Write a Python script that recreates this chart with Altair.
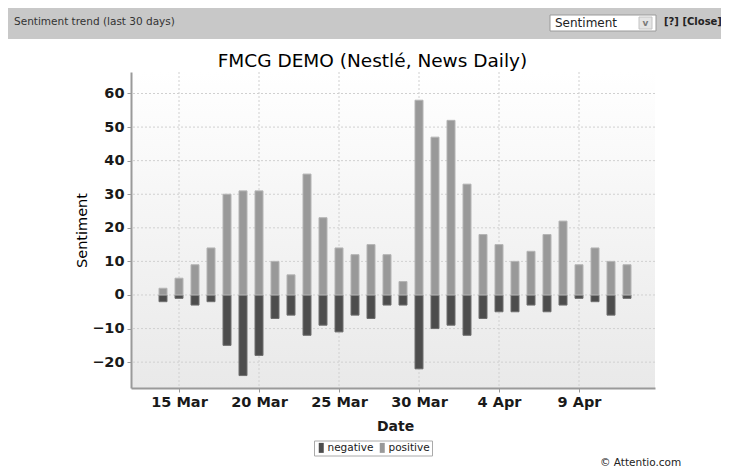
import altair as alt
import pandas as pd

# ---------------- data ----------------
dates = [d.strftime("%Y-%m-%d") for d in pd.date_range("2009-03-14", "2009-04-12", freq="D")]
positive = [2, 5, 9, 14, 30, 31, 31, 10, 6, 36, 23, 14, 12, 15, 12, 4,
            58, 47, 52, 33, 18, 15, 10, 13, 18, 22, 9, 14, 10, 9]
negative = [-2, -1, -3, -2, -15, -24, -18, -7, -6, -12, -9, -11, -6, -7, -3, -3,
            -22, -10, -9, -12, -7, -5, -5, -3, -5, -3, -1, -2, -6, -1]
series = ["negative", "positive"]
fill_colors = ["#4d4d4d", "#999999"]
stroke_colors = ["#6e6e6e", "#b4b4b4"]
x_tick_dates = ["2009-03-15", "2009-03-20", "2009-03-25", "2009-03-30", "2009-04-04", "2009-04-09"]
y_ticks = [-20, -10, 0, 10, 20, 30, 40, 50, 60]
y_domain = [-27.7, 66.4]
x_domain = ["2009-03-12T00:00:00", "2009-04-13T18:00:00"]

chart_title = "FMCG DEMO (Nestlé, News Daily)"
header_text = "Sentiment trend (last 30 days)"
select_text = "Sentiment"
header_links = "[?] [Close]"
footer_text = "© Attentio.com"

# ---------------- layout ----------------
W, H = 524, 316
PL, PT = 123, 64
TOTAL_W, TOTAL_H = 713, 460
FONT = "DejaVu Sans"


def ms(s):
    return int(pd.Timestamp(s, tz="UTC").value // 10**6)


df = pd.DataFrame({
    "date": [ms(d) for d in dates] * 2,
    "value": negative + positive,
    "series": ["negative"] * len(dates) + ["positive"] * len(dates),
})

xscale = alt.Scale(type="utc", domain=[ms(x_domain[0]), ms(x_domain[1])], nice=False, padding=0)
yscale = alt.Scale(domain=y_domain, nice=False, zero=False, padding=0)

xaxis = alt.Axis(
    values=[ms(d) for d in x_tick_dates],
    labelExpr="utcFormat(datum.value, '%-d %b')",
    grid=False,
    domainColor="#9a9a9a", domainWidth=2,
    tickColor="#9a9a9a", tickSize=4,
    labelFont=FONT, labelFontSize=14.5, labelFontWeight="bold",
    labelColor="#1a1a1a", labelPadding=3, labelFlush=False,
    title="Date", titleFont=FONT, titleFontSize=14, titleFontWeight="bold",
    titleColor="#1a1a1a", titleX=264, titleY=42, titleBaseline="alphabetic",
    titleAlign="center", zindex=1,
)
yaxis = alt.Axis(
    values=y_ticks,
    grid=False,
    domainColor="#9a9a9a", domainWidth=2,
    tickColor="#9a9a9a", tickSize=4,
    labelFont=FONT, labelFontSize=14.5, labelFontWeight="bold",
    labelColor="#1a1a1a", labelPadding=3,
    title="Sentiment", titleFont=FONT, titleFontSize=14.5,
    titleFontWeight="normal", titleColor="#000000",
    titleX=-45, titleY=H / 2, titleAngle=270, titleBaseline="alphabetic",
    titleAlign="center", zindex=1,
)

bg = alt.Chart(pd.DataFrame({"a": [0]})).mark_rect(
    fill=alt.LinearGradient(
        gradient="linear",
        stops=[alt.GradientStop(color="#ffffff", offset=0),
               alt.GradientStop(color="#e9e9e9", offset=1)],
        x1=0, x2=0, y1=0, y2=1,
    )
).encode(x=alt.value(0), x2=alt.value(W), y=alt.value(0), y2=alt.value(H))

ygrid = alt.Chart(pd.DataFrame({"value": y_ticks})).mark_rule(
    color="#d0d0d0", strokeDash=[2, 2], strokeWidth=1
).encode(y=alt.Y("value:Q", scale=yscale, axis=yaxis))

xgrid = alt.Chart(pd.DataFrame({"date": [ms(d) for d in x_tick_dates]})).mark_rule(
    color="#d0d0d0", strokeDash=[2, 2], strokeWidth=1
).encode(x=alt.X("date:T", scale=xscale, axis=xaxis))

bars = alt.Chart(df).mark_bar(size=8, strokeWidth=1, opacity=1).encode(
    x=alt.X("date:T", scale=xscale, axis=xaxis),
    y=alt.Y("value:Q", stack=None, scale=yscale, axis=yaxis),
    color=alt.Color(
        "series:N",
        scale=alt.Scale(domain=series, range=fill_colors),
        legend=alt.Legend(
            orient="none", legendX=183, legendY=368.5, direction="horizontal",
            title=None, symbolType="M-0.5,-1H0.5V1H-0.5Z", symbolSize=100,
            symbolStrokeWidth=0, labelFont=FONT, labelFontSize=10.5,
            labelColor="#1a1a1a", labelOffset=1, columnPadding=3, padding=2,
            strokeColor="#aaaaaa", fillColor="#ffffff",
        ),
    ),
    stroke=alt.Stroke("series:N", scale=alt.Scale(domain=series, range=stroke_colors), legend=None),
)


def one(label):
    return alt.Chart(pd.DataFrame({"t": [label]}))


title = one(chart_title).mark_text(
    font=FONT, fontSize=18.5, color="#000000", align="center", baseline="alphabetic"
).encode(x=alt.value(241.5), y=alt.value(-5), text="t:N")

header_bar = one("").mark_rect(color="#c8c8c8").encode(
    x=alt.value(-PL), x2=alt.value(TOTAL_W - PL), y=alt.value(-PT), y2=alt.value(-PT + 31)
)
header_lbl = one(header_text).mark_text(
    font=FONT, fontSize=10.5, color="#333333", align="left", baseline="middle"
).encode(x=alt.value(-117), y=alt.value(-50), text="t:N")

select_box = one("").mark_rect(fill="#ffffff", stroke="#9a9a9a", strokeWidth=1).encode(
    x=alt.value(419), x2=alt.value(525), y=alt.value(-57), y2=alt.value(-41)
)
select_btn = one("").mark_rect(fill="#e4e4e4", stroke="#c4c4c4", strokeWidth=1).encode(
    x=alt.value(508), x2=alt.value(521), y=alt.value(-55), y2=alt.value(-43)
)
select_arrow = one("v").mark_text(
    font=FONT, fontSize=9, fontWeight="bold", color="#7a7a7a", align="center", baseline="middle"
).encode(x=alt.value(514.5), y=alt.value(-49.5), text="t:N")
select_lbl = one(select_text).mark_text(
    font=FONT, fontSize=12, color="#222222", align="left", baseline="middle"
).encode(x=alt.value(424), y=alt.value(-49), text="t:N")
links = one(header_links).mark_text(
    font=FONT, fontSize=10, fontWeight="bold", color="#222222", align="left", baseline="middle"
).encode(x=alt.value(533), y=alt.value(-50), text="t:N")

footer = one(footer_text).mark_text(
    font=FONT, fontSize=10.5, color="#222222", align="left", baseline="alphabetic"
).encode(x=alt.value(469), y=alt.value(394), text="t:N")

chart = alt.layer(
    bg, ygrid, xgrid, bars, title, header_bar, header_lbl,
    select_box, select_btn, select_arrow, select_lbl, links, footer
).properties(
    width=W, height=H,
    autosize=alt.AutoSizeParams(type="none"),
    padding={"left": PL, "top": PT, "right": TOTAL_W - PL - W, "bottom": TOTAL_H - PT - H},
).configure_view(stroke=None)

chart.save("out.html", embed_options={"renderer": "svg", "actions": False})
